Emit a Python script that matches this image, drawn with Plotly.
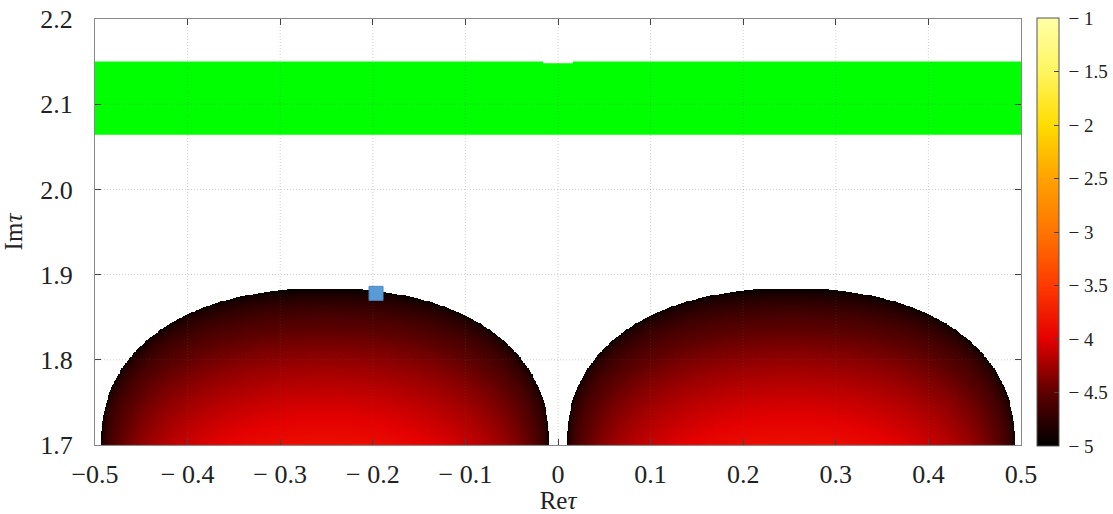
import numpy as np
import plotly.graph_objects as go

# ---- data ----
# two domes: superellipse-like boundaries (centre Re, base Im, half-width, height, exponent)
dome_centers = [-0.2515, 0.2515]
dome_base = 1.700
dome_halfwidth = 0.242
dome_height = 0.1835
dome_exponent = 2.25
dome_val_edge = -5.0     # value on the dome boundary
dome_val_peak = -3.88    # value at the bottom centre of a dome

# green band (Re, Im of top and bottom)
band_re = [-0.5, -0.016, -0.016, 0.016, 0.016, 0.5]
band_top = [2.150, 2.150, 2.148, 2.148, 2.150, 2.150]
band_bottom = 2.064

# marked point
point_re = [-0.1965]
point_im = [1.878]

x_ticks = [-0.5, -0.4, -0.3, -0.2, -0.1, 0.0, 0.1, 0.2, 0.3, 0.4, 0.5]
x_ticktext = ["−0.5", "− 0.4", "− 0.3", "− 0.2", "− 0.1", "0", "0.1", "0.2", "0.3", "0.4", "0.5"]
y_ticks = [1.7, 1.8, 1.9, 2.0, 2.1, 2.2]
y_ticktext = ["1.7", "1.8", "1.9", "2.0", "2.1", "2.2"]
cb_ticks = [-5, -4.5, -4, -3.5, -3, -2.5, -2, -1.5, -1]
cb_ticktext = ["\u00a0− 5", "\u00a0− 4.5", "\u00a0− 4", "\u00a0− 3.5", "\u00a0− 3",
               "\u00a0− 2.5", "\u00a0− 2", "\u00a0− 1.5", "\u00a0− 1"]

colorscale = [
    [0.0, "#000000"], [0.125, "#5e0000"], [0.25, "#e40000"], [0.375, "#ff3a00"],
    [0.5, "#ff7400"], [0.625, "#ffa200"], [0.75, "#ffdc00"], [0.875, "#fff560"],
    [1.0, "#ffffa8"],
]

# ---- build the dome field ----
xs = np.round(np.arange(-0.5, 0.5 + 1e-9, 0.001), 4)
ys = np.round(np.arange(1.7, dome_base + dome_height + 0.0015, 0.001), 4)
X, Y = np.meshgrid(xs, ys)
Z = np.full(X.shape, np.nan)
p = dome_exponent
for xc in dome_centers:
    dy = np.clip((Y - dome_base) / dome_height, 0, None)
    rem = 1 - dy ** p
    ok = rem > 0
    hw = dome_halfwidth * np.where(ok, np.abs(rem) ** (1 / p), 0)
    inside = ok & (np.abs(X - xc) <= hw)
    u = np.where(hw > 0, (X - xc) / np.maximum(hw, 1e-9), 1)
    u = np.clip(u, -1, 1)
    v = np.clip(1 - dy, 0, 1)
    g = (1 - u ** 2) ** 0.45 * v ** 0.62
    val = dome_val_edge + (dome_val_peak - dome_val_edge) * g
    Z = np.where(inside, val, Z)
Z = np.round(Z, 3)

fig = go.Figure()
fig.add_trace(go.Heatmap(
    x=xs, y=ys, z=Z, colorscale=colorscale, zmin=-5, zmax=-1, zsmooth=False,
    hoverinfo="skip",
    colorbar=dict(
        x=1.017, xanchor="left", y=0.5, yanchor="middle", len=1.005, lenmode="fraction",
        thickness=22, outlinecolor="#555555", outlinewidth=1,
        tickvals=cb_ticks, ticktext=cb_ticktext, ticks="inside", ticklen=5,
        tickcolor="#444444", xpad=0, ypad=0, ticklabeloverflow="allow",
        tickfont=dict(family="Liberation Serif", size=19, color="#222222"),
    ),
))

# green band
fig.add_trace(go.Scatter(
    x=band_re + band_re[::-1], y=band_top + [band_bottom] * len(band_re),
    fill="toself", fillcolor="#00ff00", mode="lines", line=dict(width=0),
    hoverinfo="skip", showlegend=False,
))

# grid lines (dotted, drawn above the coloured regions)
grid_col = "rgba(90,90,90,0.28)"
for xv in x_ticks[1:-1]:
    fig.add_trace(go.Scatter(x=[xv, xv], y=[y_ticks[0], y_ticks[-1]], mode="lines",
                             line=dict(color=grid_col, width=1, dash="1px,2px"),
                             hoverinfo="skip", showlegend=False))
for yv in y_ticks[1:-1]:
    fig.add_trace(go.Scatter(x=[x_ticks[0], x_ticks[-1]], y=[yv, yv], mode="lines",
                             line=dict(color=grid_col, width=1, dash="1px,2px"),
                             hoverinfo="skip", showlegend=False))

# marker
fig.add_trace(go.Scatter(
    x=point_re, y=point_im, mode="markers",
    marker=dict(symbol="square", size=14, color="#5b9bd5", line=dict(color="#4a88c4", width=1)),
    showlegend=False, hoverinfo="skip",
))

axis_font = dict(family="Liberation Serif", size=26, color="#222222")
fig.update_xaxes(
    range=[-0.5, 0.5], tickvals=x_ticks, ticktext=x_ticktext, tickfont=axis_font,
    showgrid=False, zeroline=False, showline=True, linecolor="#888888", linewidth=1,
    mirror="ticks", ticks="inside", ticklen=6, tickcolor="#444444", layer="above traces",
    ticklabelstandoff=6, ticklabeloverflow="allow",
    title=dict(text="Re<i>τ</i>", font=dict(family="Liberation Serif", size=25, color="#222222"), standoff=2),
)
fig.update_yaxes(
    range=[1.7, 2.2], tickvals=y_ticks, ticktext=y_ticktext, tickfont=axis_font,
    showgrid=False, zeroline=False, showline=True, linecolor="#888888", linewidth=1,
    mirror="ticks", ticks="inside", ticklen=6, tickcolor="#444444", layer="above traces",
    ticklabelstandoff=16, ticklabeloverflow="allow",
    title=dict(text="Im<i>τ</i>", font=dict(family="Liberation Serif", size=25, color="#222222"), standoff=12),
)
fig.update_layout(
    width=1113, height=514, margin=dict(l=95, r=92, t=19, b=69, autoexpand=False),
    plot_bgcolor="white", paper_bgcolor="white", showlegend=False,
)
fig.write_html("out.html", config={"displayModeBar": False},
               post_script="document.body.style.margin='0';")
